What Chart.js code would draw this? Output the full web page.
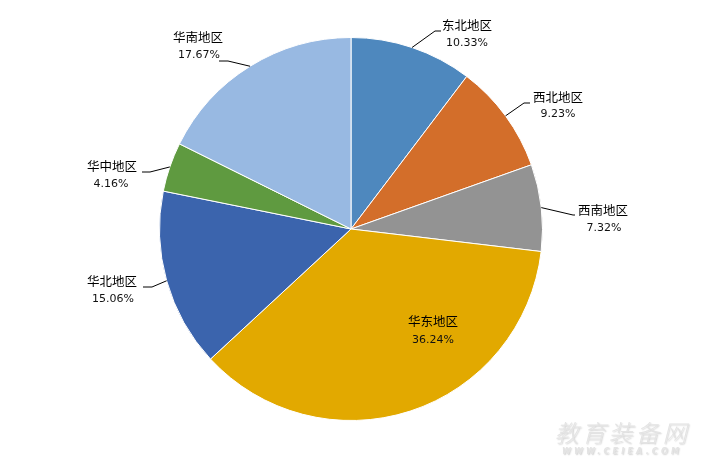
<!DOCTYPE html>
<html>
<head>
<meta charset="utf-8">
<script src="https://cdn.jsdelivr.net/npm/chart.js@4"></script>
<style>
  html, body { margin: 0; padding: 0; background: #fff; }
  #wrap { width: 704px; height: 462px; position: relative; }
</style>
</head>
<body>
<div id="wrap"><canvas id="c" width="704" height="462"></canvas></div>
<script>
// Regional share of the total (percent)
const regions = ['东北地区', '西北地区', '西南地区', '华东地区', '华北地区', '华中地区', '华南地区'];
const shares = [10.33, 9.23, 7.32, 36.24, 15.06, 4.16, 17.67];
const sliceColors = ['#4E88BE', '#D36E2A', '#939393', '#E2A900', '#3B64AD', '#5F9A40', '#98B9E2'];

// Label placement: text centre (name line / percent line) and leader-line elbow + end.
// inside = label sits on the slice, no leader line.
const labelLayout = [
  { name: [467, 25.5], pct: [467, 43], elbow: [435, 31], end: [441, 31] },
  { name: [558, 97.5], pct: [558, 114.5], elbow: [524, 103], end: [530, 103] },
  { name: [603, 210], pct: [604, 228], elbow: [573, 215], end: [575, 215] },
  { name: [433, 321], pct: [433, 340], inside: true },
  { name: [112, 281], pct: [113, 299], elbow: [152, 287], end: [143, 287] },
  { name: [112, 166.5], pct: [111, 184], elbow: [150, 172], end: [142, 172] },
  { name: [198, 37.5], pct: [199, 55], elbow: [228, 61], end: [219, 61] }
];

const CJK = '"Noto Sans CJK SC", "Noto Sans", sans-serif';

const pieLabels = {
  id: 'pieLabels',
  afterDatasetsDraw(chart) {
    const ctx = chart.ctx;
    const meta = chart.getDatasetMeta(0);
    ctx.save();
    meta.data.forEach((arc, i) => {
      const p = arc.getProps(['x', 'y', 'startAngle', 'endAngle', 'outerRadius'], true);
      const mid = (p.startAngle + p.endAngle) / 2;
      const lay = labelLayout[i];
      if (!lay.inside) {
        const ex = p.x + Math.cos(mid) * p.outerRadius;
        const ey = p.y + Math.sin(mid) * p.outerRadius;
        ctx.beginPath();
        ctx.moveTo(ex, ey);
        ctx.lineTo(lay.elbow[0], lay.elbow[1]);
        ctx.lineTo(lay.end[0], lay.end[1]);
        ctx.strokeStyle = '#000';
        ctx.lineWidth = 1;
        ctx.stroke();
      }
      ctx.fillStyle = '#000';
      ctx.textAlign = 'center';
      ctx.textBaseline = 'middle';
      ctx.font = '12.5px ' + CJK;
      ctx.fillText(regions[i], lay.name[0], lay.name[1]);
      ctx.font = '11px "DejaVu Sans", sans-serif';
      ctx.fillStyle = '#111';
      ctx.fillText(shares[i].toFixed(2) + '%', lay.pct[0], lay.pct[1]);
    });
    ctx.restore();
  }
};

const siteMark = {
  id: 'siteMark',
  afterDraw(chart) {
    const ctx = chart.ctx;
    ctx.save();
    ctx.textAlign = 'center';
    ctx.textBaseline = 'middle';
    ctx.shadowColor = 'rgba(0,0,0,0.18)';
    ctx.shadowOffsetX = 1;
    ctx.shadowOffsetY = 1;
    ctx.shadowBlur = 1.5;
    ctx.fillStyle = '#e4e4e4';
    ctx.font = 'italic 300 24px ' + CJK;
    if ('letterSpacing' in ctx) ctx.letterSpacing = '3px';
    ctx.fillText('教育装备网', 622, 433);
    ctx.font = 'italic bold 8px "DejaVu Sans", sans-serif';
    if ('letterSpacing' in ctx) ctx.letterSpacing = '3.2px';
    ctx.fillText('WWW.CEIEA.COM', 622, 452);
    ctx.restore();
  }
};

new Chart(document.getElementById('c'), {
  type: 'pie',
  data: {
    labels: regions,
    datasets: [{
      data: shares,
      backgroundColor: sliceColors,
      borderColor: '#ffffff',
      borderWidth: 1
    }]
  },
  options: {
    responsive: false,
    animation: false,
    layout: { padding: { top: 37, bottom: 41, left: 159, right: 161 } },
    plugins: {
      legend: { display: false },
      tooltip: { enabled: false }
    }
  },
  plugins: [pieLabels, siteMark]
});
</script>
</body>
</html>
